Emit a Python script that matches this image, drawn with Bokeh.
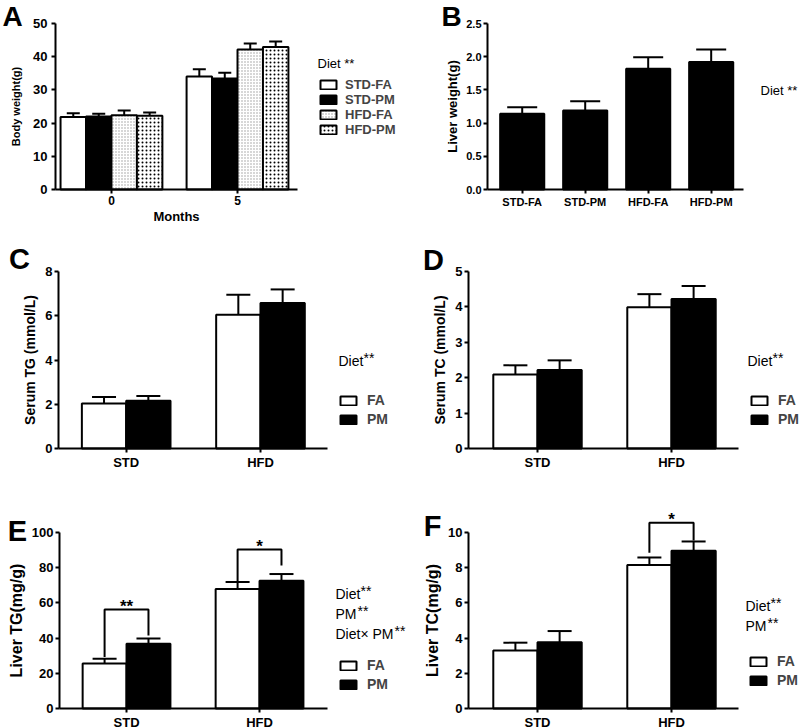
from bokeh.plotting import figure
from bokeh.models import (Range1d, FixedTicker, Label, Legend, LegendItem,
                          Whisker, TeeHead, ColumnDataSource, NumeralTickFormatter)
from bokeh.layouts import column, row
from bokeh.embed import file_html
from bokeh.resources import INLINE
from bokeh.core.properties import value

FONT = "Liberation Sans"

# ---------------- data ----------------
# A: body weight (g) at months 0 and 5
months = [0, 5]
bw_groups = ["STD-FA", "STD-PM", "HFD-FA", "HFD-PM"]
bw_std_fa = [21.8, 34.0]
bw_std_fa_err = [1.2, 2.2]
bw_std_pm = [22.0, 33.4]
bw_std_pm_err = [0.8, 1.8]
bw_hfd_fa = [22.4, 42.2]
bw_hfd_fa_err = [1.4, 1.8]
bw_hfd_pm = [22.2, 42.9]
bw_hfd_pm_err = [1.0, 1.7]

# B: liver weight (g)
lw_groups = ["STD-FA", "STD-PM", "HFD-FA", "HFD-PM"]
lw_mean = [1.14, 1.19, 1.82, 1.92]
lw_err = [0.10, 0.14, 0.17, 0.19]

diets = ["STD", "HFD"]
# C: serum TG (mmol/L)
stg_fa = [2.03, 6.05]
stg_fa_err = [0.30, 0.90]
stg_pm = [2.16, 6.58]
stg_pm_err = [0.21, 0.61]
# D: serum TC (mmol/L)
stc_fa = [2.09, 3.99]
stc_fa_err = [0.26, 0.37]
stc_pm = [2.22, 4.22]
stc_pm_err = [0.27, 0.37]
# E: liver TG (mg/g)
ltg_fa = [25.5, 67.9]
ltg_fa_err = [2.8, 4.0]
ltg_pm = [36.8, 72.6]
ltg_pm_err = [3.0, 3.8]
ltg_sig_group = [0, 1]
ltg_sig_y = [56.2, 90.3]
ltg_sig_left = [29.2, 71.9]
ltg_sig_right = [41.5, 81.2]
ltg_sig_text = ["**", "*"]
# F: liver TC (mg/g)
ltc_fa = [3.30, 8.15]
ltc_fa_err = [0.44, 0.43]
ltc_pm = [3.77, 8.96]
ltc_pm_err = [0.63, 0.53]
ltc_sig_group = [1]
ltc_sig_y = [10.55]
ltc_sig_left = [8.85]
ltc_sig_right = [9.55]
ltc_sig_text = ["*"]


# ---------------- helpers ----------------
def make_fig(x0, y0, w, h, fl, fr, ft, fb, xr, yr):
    """Figure whose frame fills the whole canvas; axes sit at fixed
    locations so that the data area spans page pixels fl..fr, ft..fb."""
    ux = (xr[1] - xr[0]) / (fr - fl)
    uy = (yr[1] - yr[0]) / (fb - ft)
    xs = xr[0] - (fl - x0) * ux
    xe = xr[1] + (x0 + w - fr) * ux
    ys = yr[0] - (y0 + h - fb) * uy
    ye = yr[1] + (ft - y0) * uy
    p = figure(width=w, height=h, x_range=Range1d(xs, xe), y_range=Range1d(ys, ye),
               output_backend="svg", toolbar_location=None,
               min_border_left=0, min_border_right=0, min_border_top=0,
               min_border_bottom=0)
    p.xgrid.visible = False
    p.ygrid.visible = False
    p.outline_line_color = None
    p.background_fill_color = "white"
    p.border_fill_color = "white"
    p.xaxis.fixed_location = yr[0]
    p.xaxis.bounds = tuple(xr)
    p.yaxis.fixed_location = xr[0]
    p.yaxis.bounds = tuple(yr)
    for ax in p.axis:
        ax.axis_line_width = 2
        ax.axis_line_color = "black"
        ax.major_tick_line_width = 2
        ax.major_tick_line_color = "black"
        ax.major_tick_out = 4
        ax.major_tick_in = 0
        ax.minor_tick_line_color = None
        ax.major_label_text_font = FONT
        ax.major_label_text_font_style = "bold"
        ax.major_label_text_font_size = "13px"
        ax.major_label_text_color = "black"
        ax.major_label_standoff = 2
        ax.axis_label_text_font = FONT
        ax.axis_label_text_font_style = "bold"
        ax.axis_label_text_color = "black"
        ax.axis_label_standoff = 4
    return p, (x0, y0, h)


def bars(p, xs, tops, errs, width, cap, **kw):
    r = p.vbar(x=xs, top=tops, width=width, bottom=0, line_color="black",
               line_width=2, **kw)
    src = ColumnDataSource(dict(x=xs, lo=tops, hi=[t + e for t, e in zip(tops, errs)]))
    p.add_layout(Whisker(source=src, base="x", lower="lo", upper="hi",
                         dimension="height", line_width=2, line_color="black",
                         upper_head=TeeHead(size=cap, line_width=2, line_color="black"),
                         lower_head=None))
    return r


def lab(p, geo, xr, yr, text, size="14px", style="normal", align="left", baseline="middle"):
    x0, y0, h = geo
    p.add_layout(Label(x=xr - x0, y=h - (yr - y0), x_units="screen", y_units="screen",
                       text=text, text_font=FONT, text_font_size=size,
                       text_font_style=style, text_align=align,
                       text_baseline=baseline, text_color="black"))


def legend(p, geo, items, xr, last_center, item_h=16, size="14px", spacing=3, standoff=9):
    x0, y0, h = geo
    lg = Legend(items=[LegendItem(label=t, renderers=[r]) for t, r in items],
                location=(xr - x0, h - (last_center + item_h / 2 - y0)),
                padding=0, margin=0, spacing=spacing,
                border_line_color=None, background_fill_alpha=0,
                glyph_width=20, glyph_height=11, label_height=11,
                label_standoff=standoff, label_text_font=FONT,
                label_text_font_size=size, label_text_font_style="bold")
    p.add_layout(lg)


def sig(p, groups, ys, lefts, rights, texts, half):
    xl = [g - half for g in groups]
    xr = [g + half for g in groups]
    p.multi_line(xs=[[a, a, b, b] for a, b in zip(xl, xr)],
                 ys=[[lo, y, y, ro] for lo, y, ro in zip(lefts, ys, rights)],
                 line_color="black", line_width=2)
    p.text(x=groups, y=ys, text=texts, text_align="center", text_baseline="alphabetic",
           y_offset=-3, text_font=value(FONT), text_font_style="bold",
           text_font_size="17px", text_color="black")


def two_group(p, fa, fa_err, pm, pm_err, cap=24, half=0.165):
    xd = list(range(len(diets)))
    p.xaxis.ticker = FixedTicker(ticks=xd)
    p.xaxis.major_label_overrides = {i: d for i, d in enumerate(diets)}
    r1 = bars(p, [x - half for x in xd], fa, fa_err, 2 * half, cap, fill_color="white")
    r2 = bars(p, [x + half for x in xd], pm, pm_err, 2 * half, cap, fill_color="black")
    return r1, r2


# ---------------- A ----------------
bwA = 1.01
pA, gA = make_fig(0, 0, 400, 228, 55, 297, 23, 189, (-2.22, 7.38), (0, 50))
pA.xaxis.ticker = FixedTicker(ticks=months)
pA.yaxis.ticker = FixedTicker(ticks=[0, 10, 20, 30, 40, 50])
pA.xaxis.axis_label = "Months"
pA.xaxis.axis_label_text_font_size = "13px"
pA.xaxis.axis_label_standoff = 1
pA.xaxis.major_label_text_font_size = "12px"
pA.yaxis.major_label_standoff = 4
pA.yaxis.axis_label = "Body weight(g)"
pA.yaxis.axis_label_text_font_size = "11px"
pA.yaxis.axis_label_standoff = 8
rA = []
series = [(bw_std_fa, bw_std_fa_err, dict(fill_color="white")),
          (bw_std_pm, bw_std_pm_err, dict(fill_color="black")),
          (bw_hfd_fa, bw_hfd_fa_err, dict(fill_color="white", hatch_pattern="dot",
                                          hatch_color="#9a9a9a", hatch_scale=3, hatch_weight=1)),
          (bw_hfd_pm, bw_hfd_pm_err, dict(fill_color="white", hatch_pattern="dot",
                                          hatch_color="black", hatch_scale=4, hatch_weight=2.8))]
for j, (m, e, kw) in enumerate(series):
    xs = [mo + (j - 1.5) * bwA for mo in months]
    rA.append(bars(pA, xs, m, e, bwA, 13, **kw))
legend(pA, gA, list(zip(bw_groups, rA)), 318, 129, item_h=15, size="13px",
       spacing=-2, standoff=7)
lab(pA, gA, 12, 16, "A", size="28px", style="bold", align="center")
lab(pA, gA, 317, 63, "Diet **", size="13px")

# ---------------- B ----------------
pB, gB = make_fig(400, 0, 400, 228, 487, 743, 23, 189, (-0.551, 3.513), (0, 2.5))
xb = list(range(len(lw_groups)))
pB.xaxis.ticker = FixedTicker(ticks=xb)
pB.xaxis.major_label_overrides = {i: g for i, g in enumerate(lw_groups)}
pB.yaxis.ticker = FixedTicker(ticks=[0, 0.5, 1.0, 1.5, 2.0, 2.5])
pB.yaxis.formatter = NumeralTickFormatter(format="0.0")
pB.yaxis.axis_label = "Liver weight(g)"
pB.yaxis.axis_label_text_font_size = "13px"
pB.yaxis.axis_label_standoff = 3
pB.axis.major_label_text_font_size = "11px"
bars(pB, xb, lw_mean, lw_err, 0.70, 30, fill_color="black")
lab(pB, gB, 451, 16, "B", size="28px", style="bold", align="center")
lab(pB, gB, 760, 90, "Diet **", size="13px")

# ---------------- C ----------------
pC, gC = make_fig(0, 228, 400, 247, 58, 327, 271, 448, (-0.504, 1.499), (0, 8))
pC.yaxis.ticker = FixedTicker(ticks=[0, 2, 4, 6, 8])
pC.yaxis.axis_label = "Serum TG (mmol/L)"
pC.yaxis.axis_label_text_font_size = "14px"
c1, c2 = two_group(pC, stg_fa, stg_fa_err, stg_pm, stg_pm_err)
legend(pC, gC, [("FA", c1), ("PM", c2)], 338, 419)
lab(pC, gC, 19, 258, "C", size="29px", style="bold", align="center")
lab(pC, gC, 338, 360, "Diet")
lab(pC, gC, 363, 357, "**")

# ---------------- D ----------------
pD, gD = make_fig(400, 228, 400, 247, 468, 738, 271, 448, (-0.515, 1.5), (0, 5))
pD.yaxis.ticker = FixedTicker(ticks=[0, 1, 2, 3, 4, 5])
pD.yaxis.axis_label = "Serum TC (mmol/L)"
pD.yaxis.axis_label_text_font_size = "14px"
d1, d2 = two_group(pD, stc_fa, stc_fa_err, stc_pm, stc_pm_err)
legend(pD, gD, [("FA", d1), ("PM", d2)], 749, 419)
lab(pD, gD, 433, 259, "D", size="29px", style="bold", align="center")
lab(pD, gD, 747, 360, "Diet")
lab(pD, gD, 772, 357, "**")

# ---------------- E ----------------
pE, gE = make_fig(0, 475, 418, 253, 59, 327, 532, 708, (-0.504, 1.511), (0, 100))
pE.yaxis.ticker = FixedTicker(ticks=[0, 20, 40, 60, 80, 100])
pE.yaxis.axis_label = "Liver TG(mg/g)"
pE.yaxis.axis_label_text_font_size = "16px"
e1, e2 = two_group(pE, ltg_fa, ltg_fa_err, ltg_pm, ltg_pm_err)
sig(pE, ltg_sig_group, ltg_sig_y, ltg_sig_left, ltg_sig_right, ltg_sig_text, 0.165)
legend(pE, gE, [("FA", e1), ("PM", e2)], 338, 684)
lab(pE, gE, 17, 530, "E", size="29px", style="bold", align="center")
lab(pE, gE, 335, 593, "Diet")
lab(pE, gE, 360, 590, "**")
lab(pE, gE, 335, 613, "PM")
lab(pE, gE, 357, 610, "**")
lab(pE, gE, 335, 633, "Diet\u00d7 PM")
lab(pE, gE, 394, 630, "**")

# ---------------- F ----------------
pF, gF = make_fig(418, 475, 382, 253, 468, 738, 532, 708, (-0.515, 1.5), (0, 10))
pF.yaxis.ticker = FixedTicker(ticks=[0, 2, 4, 6, 8, 10])
pF.yaxis.axis_label = "Liver TC(mg/g)"
pF.yaxis.axis_label_text_font_size = "16px"
f1, f2 = two_group(pF, ltc_fa, ltc_fa_err, ltc_pm, ltc_pm_err)
sig(pF, ltc_sig_group, ltc_sig_y, ltc_sig_left, ltc_sig_right, ltc_sig_text, 0.165)
legend(pF, gF, [("FA", f1), ("PM", f2)], 748, 680)
lab(pF, gF, 432, 525, "F", size="29px", style="bold", align="center")
lab(pF, gF, 745, 605, "Diet")
lab(pF, gF, 770, 602, "**")
lab(pF, gF, 745, 625, "PM")
lab(pF, gF, 767, 622, "**")

layout = column(row(pA, pB, spacing=0), row(pC, pD, spacing=0),
                row(pE, pF, spacing=0), spacing=0)
open("out.html", "w").write(file_html(layout, INLINE))
